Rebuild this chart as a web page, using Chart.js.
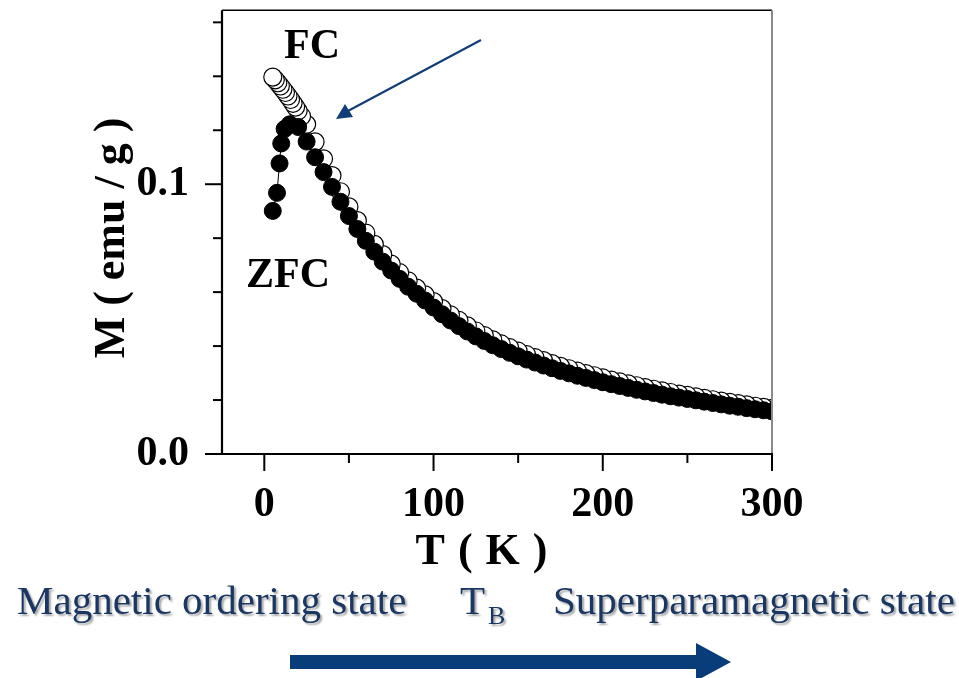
<!DOCTYPE html>
<html>
<head>
<meta charset="utf-8">
<script src="https://cdn.jsdelivr.net/npm/chart.js@4.4.1/dist/chart.umd.min.js"></script>
<style>
  html, body { margin: 0; padding: 0; background: #fff; }
  #wrap { width: 959px; height: 678px; }
</style>
</head>
<body>
<div id="wrap"><canvas id="mt" width="959" height="678"></canvas></div>
<script>
// M(T) curves, values (T in K, M in emu/g)
const zfcT = [5, 7.5, 9, 10, 12, 15, 20,
  25, 30, 35, 40, 45, 50, 55, 60, 65, 70, 75, 80, 85, 90, 95, 100,
  105, 110, 115, 120, 125, 130, 135, 140, 145, 150, 155, 160, 165, 170, 175, 180, 185, 190, 195, 200,
  205, 210, 215, 220, 225, 230, 235, 240, 245, 250, 255, 260, 265, 270, 275, 280, 285, 290, 295, 300];
const zfcM = [0.0901, 0.0968, 0.1077, 0.1151, 0.1205, 0.1222, 0.1212,
  0.1158, 0.1100, 0.1045, 0.0990, 0.0935, 0.0882, 0.0834, 0.0790, 0.0750, 0.0713, 0.0680, 0.0649, 0.0620, 0.0594, 0.0569, 0.0543,
  0.0518, 0.0495, 0.0474, 0.0454, 0.0436, 0.0419, 0.0403, 0.0389, 0.0375, 0.0362, 0.0350, 0.0339, 0.0328, 0.0318, 0.0308, 0.0299, 0.0290, 0.0282, 0.0274, 0.0266,
  0.0259, 0.0252, 0.0245, 0.0238, 0.0232, 0.0226, 0.0220, 0.0214, 0.0209, 0.0204, 0.0199, 0.0194, 0.0189, 0.0184, 0.0179, 0.0175, 0.0170, 0.0166, 0.0162, 0.0158];

const fcT = [5, 6.5, 8, 9.5, 11, 12.5, 14, 15.5, 17, 18.5, 20, 22,
  25, 30, 35, 40, 45, 50, 55, 60, 65, 70, 75, 80, 85, 90, 95, 100,
  105, 110, 115, 120, 125, 130, 135, 140, 145, 150, 155, 160, 165, 170, 175, 180, 185, 190, 195, 200,
  205, 210, 215, 220, 225, 230, 235, 240, 245, 250, 255, 260, 265, 270, 275, 280, 285, 290, 295, 300];
const fcM = [0.1397, 0.1387, 0.1376, 0.1364, 0.1352, 0.1340, 0.1327, 0.1314, 0.1300, 0.1286, 0.1272, 0.1252,
  0.1222, 0.1157, 0.1094, 0.1032, 0.0972, 0.0916, 0.0865, 0.0819, 0.0777, 0.0739, 0.0704, 0.0672, 0.0642, 0.0615, 0.0590, 0.0565,
  0.0539, 0.0516, 0.0495, 0.0475, 0.0456, 0.0439, 0.0423, 0.0408, 0.0394, 0.0381, 0.0368, 0.0357, 0.0346, 0.0335, 0.0325, 0.0316, 0.0307, 0.0298, 0.0290, 0.0282,
  0.0274, 0.0267, 0.0260, 0.0253, 0.0246, 0.0240, 0.0234, 0.0228, 0.0222, 0.0217, 0.0212, 0.0206, 0.0201, 0.0196, 0.0191, 0.0187, 0.0182, 0.0177, 0.0173, 0.0169];

const xMajor = [0, 100, 200, 300];
const yMajor = [0, 0.1];
const yMajorLabels = ['0.0', '0.1'];

const SERIF = '"Liberation Serif", "Times New Roman", serif';
const NAVY = '#0f3e78';

const isMajorY = v => yMajor.some(m => Math.abs(m - v) < 1e-9);

// keep the plot box exactly where the figure has it
const pinBox = (s, w, h) => {
  if (w) s.width = w;
  if (h) s.height = h;
  s.paddingTop = s.paddingBottom = s.paddingLeft = s.paddingRight = 0;
};

// ── axes frame, ticks, annotations ────────────────────────
const framePlugin = {
  id: 'frame',
  afterDraw(chart) {
    const { ctx, chartArea: a, scales: { x, y } } = chart;
    ctx.save();

    // top + right border
    ctx.lineWidth = 1.5;
    ctx.strokeStyle = '#000';
    ctx.beginPath(); ctx.moveTo(a.left, a.top); ctx.lineTo(a.right, a.top); ctx.stroke();
    ctx.lineWidth = 2;
    ctx.strokeStyle = '#8a8a8a';
    ctx.beginPath(); ctx.moveTo(a.right, a.top); ctx.lineTo(a.right, a.bottom); ctx.stroke();

    // left + bottom axes
    ctx.strokeStyle = '#000';
    ctx.lineWidth = 2.2;
    ctx.beginPath(); ctx.moveTo(a.left, a.top); ctx.lineTo(a.left, a.bottom); ctx.stroke();
    ctx.beginPath(); ctx.moveTo(a.left, a.bottom); ctx.lineTo(a.right + 1, a.bottom); ctx.stroke();

    ctx.lineWidth = 2;
    y.ticks.forEach(t => {
      const py = y.getPixelForValue(t.value);
      const len = isMajorY(t.value) ? 17 : 9;
      ctx.beginPath(); ctx.moveTo(a.left, py); ctx.lineTo(a.left - len, py); ctx.stroke();
    });
    x.ticks.forEach(t => {
      const px = x.getPixelForValue(t.value);
      const len = xMajor.includes(t.value) ? 17 : 9;
      ctx.beginPath(); ctx.moveTo(px, a.bottom); ctx.lineTo(px, a.bottom + len); ctx.stroke();
    });

    // axis titles
    ctx.fillStyle = '#000';
    ctx.font = `bold 44px ${SERIF}`;
    ctx.textAlign = 'center';
    ctx.textBaseline = 'alphabetic';
    ctx.letterSpacing = '1px';
    ctx.fillText('T ( K )', 482, 564);
    ctx.letterSpacing = '0px';
    ctx.save();
    ctx.translate(124, 238);
    ctx.rotate(-Math.PI / 2);
    ctx.fillText('M ( emu / g )', 0, 0);
    ctx.restore();

    // curve labels
    ctx.font = `bold 42px ${SERIF}`;
    ctx.fillText('FC', 312, 58);
    ctx.fillText('ZFC', 288, 287);

    // arrow pointing at the FC/ZFC split
    ctx.strokeStyle = NAVY;
    ctx.fillStyle = NAVY;
    ctx.lineWidth = 2;
    ctx.beginPath(); ctx.moveTo(481, 40); ctx.lineTo(346, 112); ctx.stroke();
    ctx.beginPath();
    ctx.moveTo(336, 119); ctx.lineTo(345, 104); ctx.lineTo(353, 117); ctx.closePath(); ctx.fill();

    // state captions
    ctx.shadowColor = 'rgba(0,0,0,0.35)';
    ctx.shadowOffsetX = 2;
    ctx.shadowOffsetY = 2;
    ctx.shadowBlur = 2;
    ctx.fillStyle = '#1a3763';
    ctx.textAlign = 'left';
    ctx.font = `41px ${SERIF}`;
    ctx.fillText('Magnetic ordering state', 17, 614);
    ctx.fillText('T', 460, 614);
    ctx.fillText('Superparamagnetic state', 553, 614);
    ctx.font = `26px ${SERIF}`;
    ctx.fillText('B', 488, 624);

    // big arrow along the bottom
    ctx.shadowColor = 'transparent';
    ctx.fillStyle = '#083d7a';
    ctx.fillRect(290, 655, 408, 14);
    ctx.beginPath();
    ctx.moveTo(696, 643); ctx.lineTo(731, 662); ctx.lineTo(696, 681); ctx.closePath(); ctx.fill();

    ctx.restore();
  }
};

const toPts = (xs, ys) => xs.map((t, i) => ({ x: t, y: ys[i] }));

new Chart(document.getElementById('mt'), {
  type: 'scatter',
  data: {
    datasets: [
      {
        label: 'ZFC',
        data: toPts(zfcT, zfcM),
        showLine: true,
        borderColor: '#000',
        borderWidth: 1,
        pointRadius: 8.5,
        pointBorderWidth: 1,
        pointBackgroundColor: '#000',
        pointBorderColor: '#000',
      },
      {
        label: 'FC',
        // low-T points sit on top in the figure, so draw from 300 K down
        data: toPts(fcT, fcM).reverse(),
        showLine: false,
        pointRadius: 9,
        pointBorderWidth: 1.2,
        pointBackgroundColor: '#fff',
        pointBorderColor: '#000',
      },
    ],
  },
  options: {
    responsive: false,
    animation: false,
    devicePixelRatio: 1,
    layout: { padding: { top: 10, right: 187, left: 0, bottom: 0 } },
    plugins: { legend: { display: false }, tooltip: { enabled: false } },
    scales: {
      x: {
        type: 'linear',
        min: -25,
        max: 300,
        afterFit: s => pinBox(s, 0, 224),
        grid: { display: false },
        border: { display: false },
        ticks: {
          stepSize: 50,
          includeBounds: false,
          autoSkip: false,
          maxRotation: 0,
          padding: 18,
          color: '#000',
          font: { family: SERIF, size: 42, weight: 'bold' },
          callback: v => xMajor.includes(v) ? String(v) : '',
        },
      },
      y: {
        min: 0,
        max: 0.1645,
        afterFit: s => pinBox(s, 222, 0),
        grid: { display: false },
        border: { display: false },
        ticks: {
          stepSize: 0.02,
          includeBounds: false,
          autoSkip: false,
          padding: 25,
          color: '#000',
          font: { family: SERIF, size: 42, weight: 'bold' },
          callback: v => {
            const i = yMajor.findIndex(m => Math.abs(m - v) < 1e-9);
            return i >= 0 ? yMajorLabels[i] : '';
          },
        },
      },
    },
  },
  plugins: [framePlugin],
});
</script>
</body>
</html>
